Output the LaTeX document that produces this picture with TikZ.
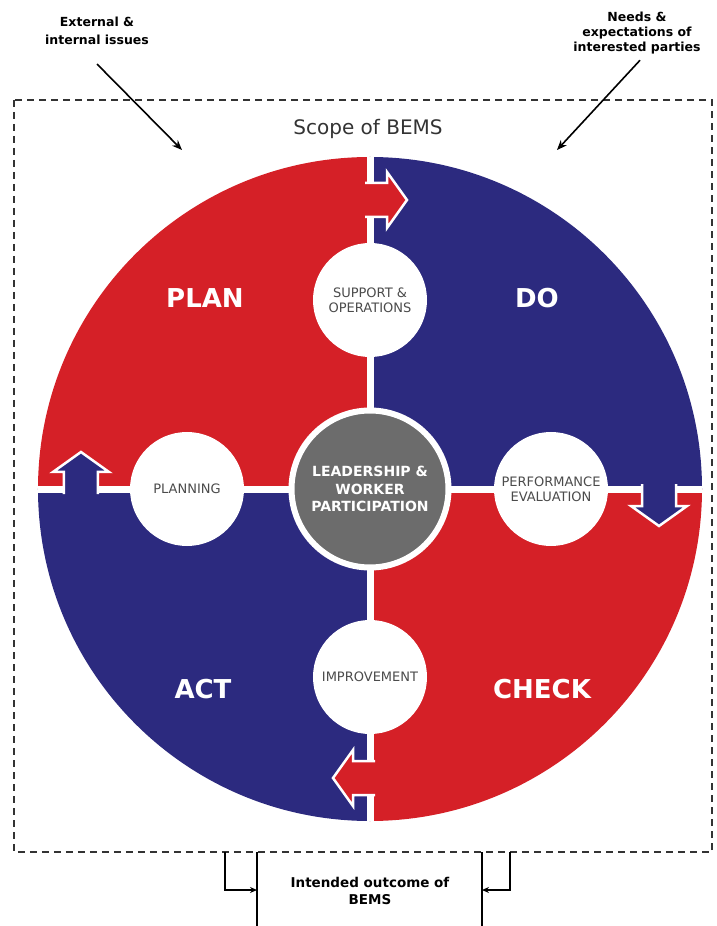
\documentclass[tikz,border=0pt]{standalone}
\usepackage{fontspec}
\setmainfont{DejaVu Sans}
\usepackage{tikz}
\usetikzlibrary{arrows.meta}

\definecolor{cyclered}{RGB}{213,32,39}
\definecolor{cycleblue}{RGB}{44,42,127}
\definecolor{centergray}{RGB}{108,108,108}
\definecolor{stagegray}{RGB}{75,75,75}

\begin{document}
\begin{tikzpicture}[
		x=1pt, y=1pt,
		every node/.style={align=center, inner sep=0pt},
		quadrant/.style={text=white, font=\fontsize{26}{30}\selectfont\bfseries},
		stage/.style={circle, fill=white, minimum size=114pt, text=stagegray, font=\fontsize{13}{15}\selectfont},
		issue/.style={font=\fontsize{12.5}{18}\selectfont\bfseries},
		feed/.style={line width=1.6pt, -{Stealth[length=10pt, width=8pt]}},
		loop/.style={line width=1.5pt, -{Stealth[length=7pt, width=6pt]}}
	]
  \useasboundingbox (-370, -437) rectangle (346, 489);
  % PDCA quadrants
  \fill[cyclered] (0, 0) -- (180:332) arc (180:90:332) -- cycle;
  \fill[cycleblue] (0, 0) -- (90:332) arc (90:0:332) -- cycle;
  \fill[cyclered] (0, 0) -- (0:332) arc (0:-90:332) -- cycle;
  \fill[cycleblue] (0, 0) -- (-90:332) arc (-90:-180:332) -- cycle;
  \draw[white, line width=7pt] (0, 332) -- (0, -332);
  \draw[white, line width=7pt] (-332, 0) -- (332, 0);
  % block arrows between quadrants
  \foreach \ang/\col in {0/cyclered, -90/cycleblue, 180/cyclered, 90/cycleblue}
    \filldraw[fill=\col, draw=white, line width=2.5pt, rotate=\ang]
      (-5, 306) -- (17, 306) -- (17, 317) -- (37, 289) -- (17, 261) -- (17, 272) -- (-5, 272);
  \node (support) [stage] at (0, 189) {SUPPORT \&\\OPERATIONS};
  \node (planning) [stage] at (-183, 0) {PLANNING};
  \node (performance) [stage] at (181, 0) {PERFORMANCE\\EVALUATION};
  \node (improvement) [stage] at (0, -188) {IMPROVEMENT};
  \node (leadership) [circle, fill=centergray, draw=white, line width=6pt, minimum size=157pt,
    text=white, font=\fontsize{14}{17.5}\selectfont\bfseries] at (0, 0) {LEADERSHIP \&\\WORKER\\PARTICIPATION};
  \node (plan) [quadrant] at (-165, 191) {PLAN};
  \node (do) [quadrant] at (167, 191) {DO};
  \node (act) [quadrant] at (-167, -200) {ACT};
  \node (check) [quadrant] at (172, -200) {CHECK};
  % scope
  \draw[dash pattern=on 7pt off 5pt, line width=1.8pt, draw=black!80] (-356, 389) rectangle (342, -363);
  \node (scope) [font=\fontsize{20}{24}\selectfont, text=black!80] at (-2, 360) {Scope of BEMS};
  \node (ext_issues) [issue] at (-273, 458) {External \&\\internal issues};
  \node (needs) [issue, font=\fontsize{12.5}{15}\selectfont\bfseries] at (267, 456) {Needs \&\\expectations of\\interested parties};
  \coordinate (ext_tip) at (-188, 339);
  \coordinate (needs_tip) at (187, 339);
  \draw[feed] ([yshift=-19pt]ext_issues.south) -- (ext_tip);
  \draw[feed] ([xshift=3pt, yshift=-6pt]needs.south) -- (needs_tip);
  % outcome
  \node (outcome) [font=\fontsize{13.5}{17}\selectfont\bfseries] at (0, -402) {Intended outcome of\\BEMS};
  \draw[line width=1.5pt] (-113, -363) -- (-113, -437);
  \draw[line width=1.5pt] (112, -363) -- (112, -437);
  \coordinate (out_left) at (-145, -363);
  \coordinate (out_right) at (140, -363);
  \coordinate (in_left) at (-113, -401);
  \coordinate (in_right) at (112, -401);
  \draw[loop] (out_left) |- (in_left);
  \draw[loop] (out_right) |- (in_right);
\end{tikzpicture}
\end{document}
